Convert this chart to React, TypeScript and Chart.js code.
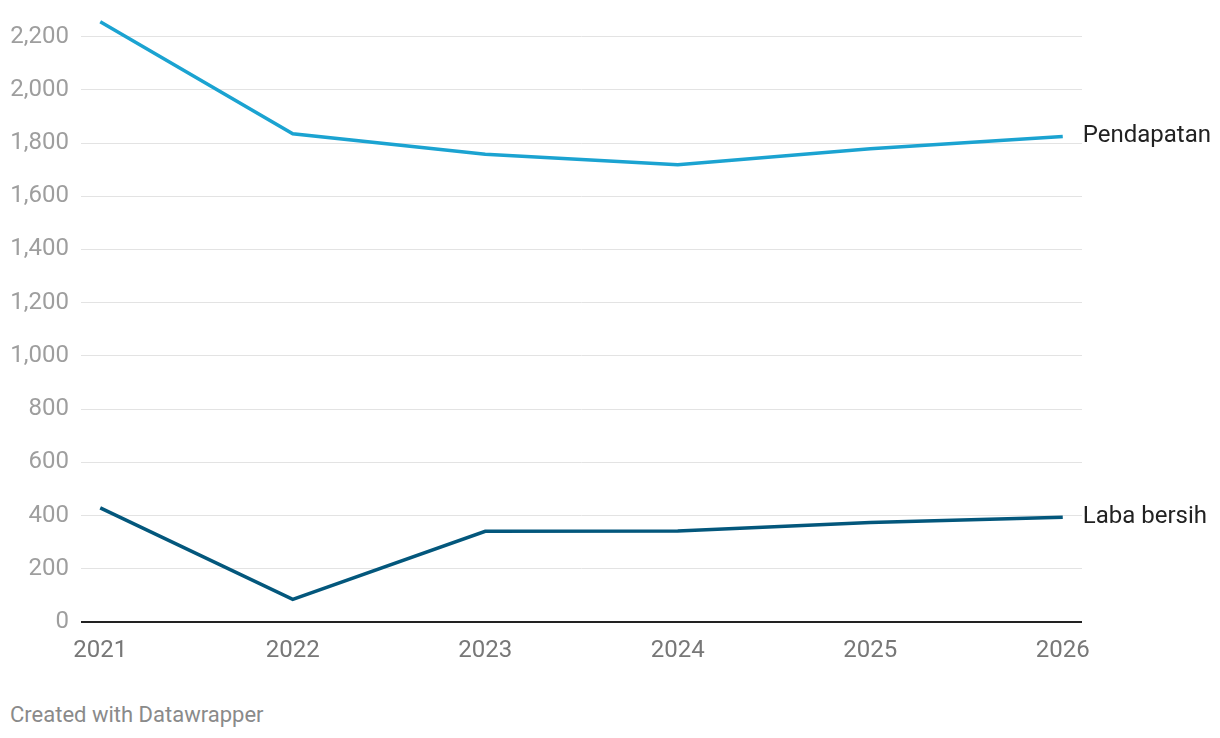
import React, { useEffect, useRef } from "react";
import { Chart, registerables } from "chart.js";

Chart.register(...registerables);

const years = [2021, 2022, 2023, 2024, 2025, 2026];
const pendapatan = [2256, 1835, 1758, 1718, 1779, 1825];
const labaBersih = [429, 85, 341, 342, 374, 394];
const seriesNames = ["Pendapatan", "Laba bersih"];
const seriesColors = ["#1ba3d1", "#03577c"];
const yTicks = [0, 200, 400, 600, 800, 1000, 1200, 1400, 1600, 1800, 2000, 2200];

const FONT = "Roboto, 'Noto Sans', sans-serif";

const endLabels = {
  id: "endLabels",
  afterDatasetsDraw(chart: any) {
    const ctx = chart.ctx;
    ctx.save();
    ctx.font = `24px ${FONT}`;
    ctx.fillStyle = "#222222";
    ctx.textAlign = "left";
    ctx.textBaseline = "middle";
    chart.data.datasets.forEach((ds: any, i: number) => {
      const meta = chart.getDatasetMeta(i);
      const pt = meta.data[meta.data.length - 1];
      ctx.fillText(ds.label, pt.x + 20, pt.y);
    });
    ctx.restore();
  },
};

export default function App() {
  const ref = useRef<HTMLCanvasElement>(null);
  useEffect(() => {
    if (!ref.current) return;
    const chart = new Chart(ref.current, {
      type: "line",
      data: {
        datasets: [
          {
            label: seriesNames[0],
            data: years.map((y, i) => ({ x: y, y: pendapatan[i] })),
            borderColor: seriesColors[0],
            borderWidth: 3.5,
            pointRadius: 0,
            tension: 0,
            clip: false,
          },
          {
            label: seriesNames[1],
            data: years.map((y, i) => ({ x: y, y: labaBersih[i] })),
            borderColor: seriesColors[1],
            borderWidth: 3.5,
            pointRadius: 0,
            tension: 0,
            clip: false,
          },
        ],
      },
      options: {
        animation: false,
        responsive: false,
        layout: { padding: { top: 10, right: 138, left: 0, bottom: 0 } },
        plugins: { legend: { display: false }, tooltip: { enabled: false } },
        scales: {
          x: {
            type: "linear",
            min: 2020.9,
            max: 2026.1,
            afterBuildTicks: (scale: any) => {
              scale.ticks = years.map((v) => ({ value: v }));
            },
            afterFit: (scale: any) => {
              scale.height = 58;
              scale.paddingLeft = 0;
              scale.paddingRight = 0;
            },
            grid: { display: false, drawTicks: false },
            border: { display: false },
            ticks: {
              color: "#777777",
              font: { family: FONT, size: 24 },
              padding: 15,
              maxRotation: 0,
              autoSkip: false,
              callback: (v: any) => String(v),
            },
          },
          y: {
            min: 0,
            max: 2300,
            afterBuildTicks: (scale: any) => {
              scale.ticks = yTicks.map((v) => ({ value: v }));
            },
            afterFit: (scale: any) => {
              scale.width = 81;
              scale.paddingTop = 0;
              scale.paddingBottom = 0;
            },
            grid: {
              drawTicks: false,
              color: (c: any) => (c.tick && c.tick.value === 0 ? "#222222" : "#e3e3e3"),
              lineWidth: (c: any) => (c.tick && c.tick.value === 0 ? 2 : 1),
            },
            border: { display: false },
            ticks: {
              color: "#9e9e9e",
              font: { family: FONT, size: 24 },
              padding: 12,
              callback: (v: any) => Number(v).toLocaleString("en-US"),
            },
          },
        },
      },
      plugins: [endLabels],
    } as any);
    return () => chart.destroy();
  }, []);

  return (
    <div style={{ position: "fixed", left: 0, top: 0, width: 1220, height: 738, background: "#fff" }}>
      <canvas ref={ref} width={1220} height={680} style={{ display: "block" }} />
      <div
        style={{
          position: "absolute",
          left: 10,
          top: 701,
          fontFamily: FONT,
          fontSize: 22,
          lineHeight: "28px",
          color: "#8a8a8a",
        }}
      >
        Created with Datawrapper
      </div>
    </div>
  );
}
